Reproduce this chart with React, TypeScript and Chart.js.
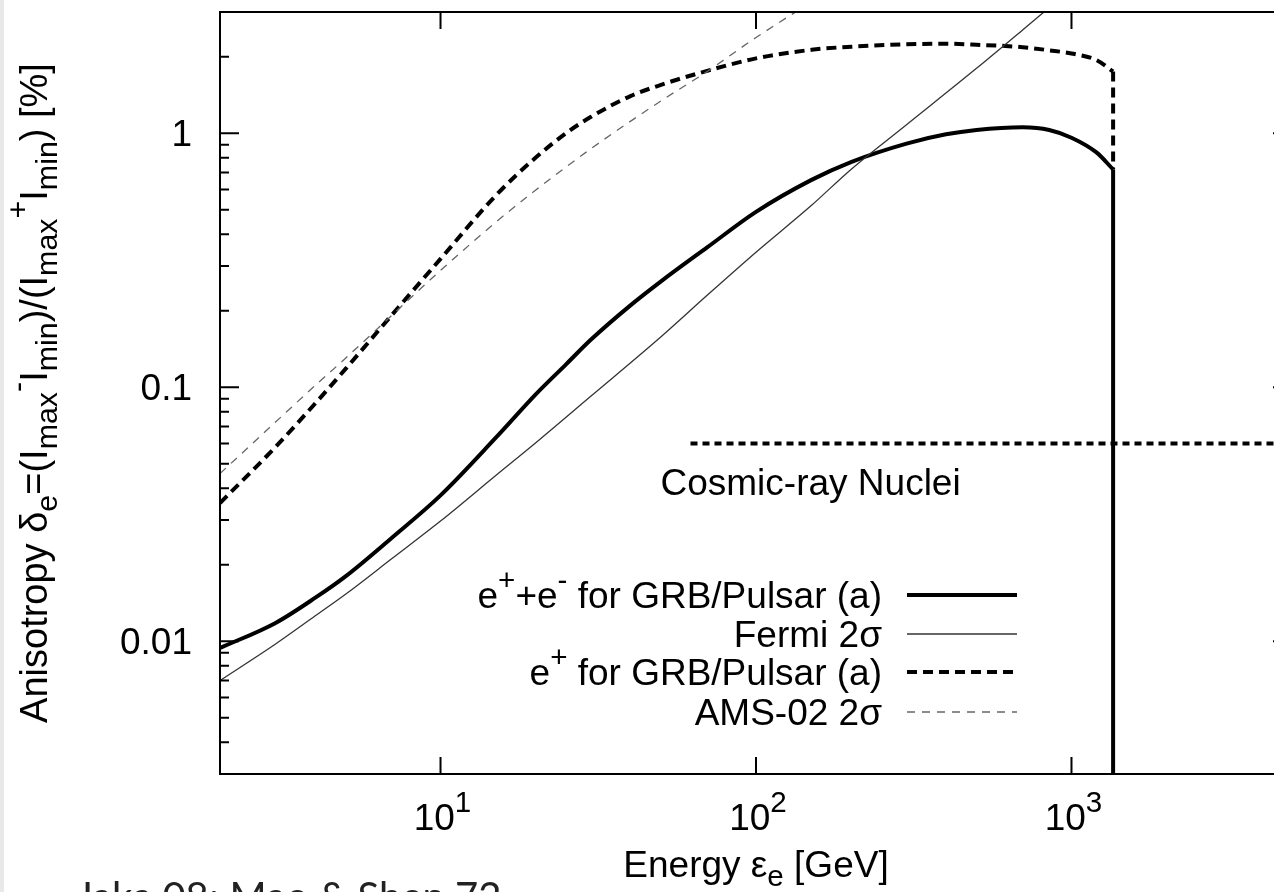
import { useEffect, useRef } from "react";
import { Chart, registerables } from "chart.js";

Chart.register(...registerables);

// Electron energy grid [GeV] shared by the two GRB/pulsar model curves
const modelEnergy = [2, 3, 4, 5, 7, 10, 15, 20, 25, 30, 40, 50, 70, 100, 150, 200, 300, 400, 500, 700, 850, 1000, 1200, 1355];
// e+ + e- anisotropy [%]
const totalAnisotropy = [0.0094, 0.0118, 0.0148, 0.018, 0.0255, 0.0375, 0.0634, 0.0935, 0.123, 0.154, 0.21, 0.261, 0.355, 0.49, 0.655, 0.77, 0.91, 0.99, 1.03, 1.055, 1.03, 0.96, 0.84, 0.72];
// e+ only anisotropy [%]
const positronAnisotropy = [0.035, 0.0582, 0.0861, 0.118, 0.192, 0.32, 0.57, 0.8, 1.0, 1.16, 1.4, 1.55, 1.76, 1.97, 2.13, 2.19, 2.24, 2.25, 2.23, 2.18, 2.12, 2.06, 1.94, 1.75];

// Fermi 2-sigma sensitivity
const fermiEnergy = [2, 3, 4, 5, 7, 10, 15, 20, 30, 50, 70, 100, 150, 200, 300, 500, 700, 1000];
const fermiSensitivity = [0.007, 0.00975, 0.01256, 0.0153, 0.0211, 0.0297, 0.045, 0.0603, 0.0923, 0.158, 0.23, 0.34, 0.52, 0.72, 1.08, 1.8, 2.55, 3.7];

// AMS-02 2-sigma sensitivity
const amsEnergy = [2, 3, 4, 5, 7, 10, 15, 20, 30, 50, 70, 100, 150];
const amsSensitivity = [0.0457, 0.0729, 0.1014, 0.13, 0.1916, 0.288, 0.447, 0.596, 0.869, 1.34, 1.75, 2.38, 3.29];

// Sharp spectral cutoff of the source
const cutoffEnergy = 1355;
const totalCutoff = [0.72, 0.001];
const positronCutoff = [1.75, 0.72];

// Cosmic-ray nuclei anisotropy level
const nucleiEnergy = [62, 5000];
const nucleiAnisotropy = [0.06, 0.06];

// Axis ranges and ticks
const energyRange = [2, 5000];
const anisotropyRange = [0.003, 3];
const energyMajorTicks = [10, 100, 1000];
const energyTickExponents = ["1", "2", "3"];
const anisotropyMajorTicks = [0.01, 0.1, 1];
const anisotropyTickLabels = ["0.01", "0.1", "1"];
const minorMultipliers = [2, 3, 4, 5, 6, 7, 8, 9];

type Run = { t: string; s?: "sup" | "sub" };

const legendLabels: Run[][] = [
  [{ t: "e" }, { t: "+", s: "sup" }, { t: "+e" }, { t: "-", s: "sup" }, { t: " for GRB/Pulsar (a)" }],
  [{ t: "Fermi 2σ" }],
  [{ t: "e" }, { t: "+", s: "sup" }, { t: " for GRB/Pulsar (a)" }],
  [{ t: "AMS-02 2σ" }],
];

const yTitle: Run[] = [
  { t: "Anisotropy δ" }, { t: "e", s: "sub" }, { t: "=(I" }, { t: "max", s: "sub" }, { t: "-", s: "sup" },
  { t: "I" }, { t: "min", s: "sub" }, { t: ")/(I" }, { t: "max", s: "sub" }, { t: "+", s: "sup" },
  { t: "I" }, { t: "min", s: "sub" }, { t: ") [%]" },
];
const xTitle: Run[] = [{ t: "Energy ε" }, { t: "e", s: "sub" }, { t: " [GeV]" }];
const nucleiLabel = "Cosmic-ray Nuclei";
const footnote = "Jaka 08; Mao & Shen 72";

const FONT = "'Liberation Sans', Arial, Helvetica, sans-serif";
const SIZE = 37;

function runFont(size: number, r: Run) {
  return `${r.s ? size * 0.8 : size}px ${FONT}`;
}

function runsWidth(ctx: CanvasRenderingContext2D, runs: Run[], size: number) {
  let w = 0;
  for (const r of runs) {
    ctx.font = runFont(size, r);
    w += ctx.measureText(r.t).width;
  }
  return w;
}

function drawRuns(
  ctx: CanvasRenderingContext2D,
  runs: Run[],
  x: number,
  y: number,
  size: number,
  align: "left" | "center" | "right"
) {
  const w = runsWidth(ctx, runs, size);
  let cx = align === "left" ? x : align === "center" ? x - w / 2 : x - w;
  ctx.textAlign = "left";
  ctx.textBaseline = "alphabetic";
  for (const r of runs) {
    ctx.font = runFont(size, r);
    const dy = r.s === "sup" ? -0.5 * size : r.s === "sub" ? 0.25 * size : 0;
    ctx.fillText(r.t, cx, y + dy);
    cx += ctx.measureText(r.t).width;
  }
}

const toPoints = (xs: number[], ys: number[]) => xs.map((x, i) => ({ x, y: ys[i] }));

const styles = {
  total: { borderColor: "#000", borderWidth: 4, borderDash: [] as number[] },
  fermi: { borderColor: "#333", borderWidth: 1.3, borderDash: [] as number[] },
  positron: { borderColor: "#000", borderWidth: 4, borderDash: [10, 6] },
  ams: { borderColor: "#666", borderWidth: 1.3, borderDash: [8, 7] },
  nuclei: { borderColor: "#000", borderWidth: 4, borderDash: [7, 5] },
};

const framePlugin = {
  id: "frameAndText",
  afterDatasetsDraw(chart: any) {
    const ctx: CanvasRenderingContext2D = chart.ctx;
    const { left, right, top, bottom } = chart.chartArea;
    const xs = chart.scales.x;
    const ys = chart.scales.y;
    ctx.save();
    ctx.strokeStyle = "#000";
    ctx.fillStyle = "#000";
    ctx.setLineDash([]);

    // frame
    ctx.lineWidth = 2;
    ctx.strokeRect(left, top, right - left, bottom - top);

    // y ticks (inward, both sides)
    for (let k = -3; k <= 0; k++) {
      for (const m of [1, ...minorMultipliers]) {
        const v = m * Math.pow(10, k);
        if (v < anisotropyRange[0] * 0.999 || v > anisotropyRange[1] * 1.001) continue;
        const py = ys.getPixelForValue(v);
        const len = m === 1 ? 19 : 9;
        ctx.beginPath();
        ctx.moveTo(left, py);
        ctx.lineTo(left + len, py);
        ctx.moveTo(right, py);
        ctx.lineTo(right - len, py);
        ctx.stroke();
      }
    }
    // x ticks (inward, bottom and top)
    for (const v of energyMajorTicks) {
      const px = xs.getPixelForValue(v);
      ctx.beginPath();
      ctx.moveTo(px, bottom);
      ctx.lineTo(px, bottom - 17);
      ctx.moveTo(px, top);
      ctx.lineTo(px, top + 17);
      ctx.stroke();
    }

    // tick labels
    anisotropyMajorTicks.forEach((v, i) => {
      const py = ys.getPixelForValue(v);
      drawRuns(ctx, [{ t: anisotropyTickLabels[i] }], 192, py + 13, SIZE, "right");
    });
    energyMajorTicks.forEach((v, i) => {
      const px = xs.getPixelForValue(v);
      drawRuns(ctx, [{ t: "10" }, { t: energyTickExponents[i], s: "sup" }], px + 2, 830, SIZE, "center");
    });

    // axis titles
    drawRuns(ctx, xTitle, (left + right) / 2, 877, SIZE, "center");
    ctx.save();
    ctx.translate(47, (top + bottom) / 2);
    ctx.rotate(-Math.PI / 2);
    drawRuns(ctx, yTitle, 0, 0, 38, "center");
    ctx.restore();

    // cosmic-ray nuclei label under its line
    drawRuns(ctx, [{ t: nucleiLabel }], xs.getPixelForValue(nucleiEnergy[0]) - 30, ys.getPixelForValue(nucleiAnisotropy[0]) + 51, SIZE, "left");

    // legend: text right-aligned, line sample to the right
    const rowY = [595, 634, 672, 712];
    const legendSets = chart.data.datasets.filter((d: any) => d.legendIndex !== undefined);
    legendSets.forEach((d: any) => {
      const i = d.legendIndex;
      const y = rowY[i];
      drawRuns(ctx, legendLabels[i], 882, y + 13, SIZE, "right");
      ctx.save();
      ctx.strokeStyle = d.borderColor;
      ctx.lineWidth = d.borderWidth;
      ctx.setLineDash(d.borderDash || []);
      ctx.beginPath();
      ctx.moveTo(907, y);
      ctx.lineTo(1017, y);
      ctx.stroke();
      ctx.restore();
    });

    // citation line at the page bottom
    ctx.fillStyle = "#222";
    ctx.font = `40px Lato, 'Open Sans', sans-serif`;
    ctx.textAlign = "left";
    ctx.textBaseline = "alphabetic";
    ctx.fillText(footnote, 76, 911);

    ctx.restore();
  },
};

export default function App() {
  const canvasRef = useRef<HTMLCanvasElement>(null);

  useEffect(() => {
    document.body.style.margin = "0";
    const canvas = canvasRef.current;
    if (!canvas) return;
    const line = (extra: any) => ({
      showLine: true,
      pointRadius: 0,
      fill: false,
      clip: 0,
      ...extra,
    });
    const chart = new Chart(canvas, {
      type: "scatter",
      data: {
        datasets: [
          line({ label: "AMS-02 2σ", legendIndex: 3, data: toPoints(amsEnergy, amsSensitivity), cubicInterpolationMode: "monotone", ...styles.ams }),
          line({ label: "Fermi 2σ", legendIndex: 1, data: toPoints(fermiEnergy, fermiSensitivity), cubicInterpolationMode: "monotone", ...styles.fermi }),
          line({ label: "Cosmic-ray Nuclei", data: toPoints(nucleiEnergy, nucleiAnisotropy), ...styles.nuclei }),
          line({ label: "e+ for GRB/Pulsar (a)", legendIndex: 2, data: toPoints(modelEnergy, positronAnisotropy), cubicInterpolationMode: "monotone", ...styles.positron }),
          line({ label: "e+ cutoff", data: toPoints([cutoffEnergy, cutoffEnergy], positronCutoff), ...styles.positron }),
          line({ label: "e+ + e- for GRB/Pulsar (a)", legendIndex: 0, data: toPoints(modelEnergy, totalAnisotropy), cubicInterpolationMode: "monotone", ...styles.total }),
          line({ label: "e+ + e- cutoff", data: toPoints([cutoffEnergy, cutoffEnergy], totalCutoff), ...styles.total }),
        ],
      },
      options: {
        responsive: false,
        animation: false,
        devicePixelRatio: 1,
        events: [],
        layout: { padding: { left: 220, top: 12, right: 28, bottom: 118 } },
        plugins: { legend: { display: false }, tooltip: { enabled: false } },
        scales: {
          x: { type: "logarithmic", min: energyRange[0], max: energyRange[1], display: false },
          y: { type: "logarithmic", min: anisotropyRange[0], max: anisotropyRange[1], display: false },
        },
      } as any,
      plugins: [framePlugin],
    });
    return () => chart.destroy();
  }, []);

  return (
    <div style={{ position: "absolute", left: 0, top: 0, width: 1274, height: 892, overflow: "hidden", background: "#fff" }}>
      <canvas ref={canvasRef} width={1320} height={892} style={{ position: "absolute", left: 0, top: 0 }} />
      <div style={{ position: "absolute", left: 0, top: 0, width: 4, height: 892, background: "#e8e8e8" }} />
    </div>
  );
}
